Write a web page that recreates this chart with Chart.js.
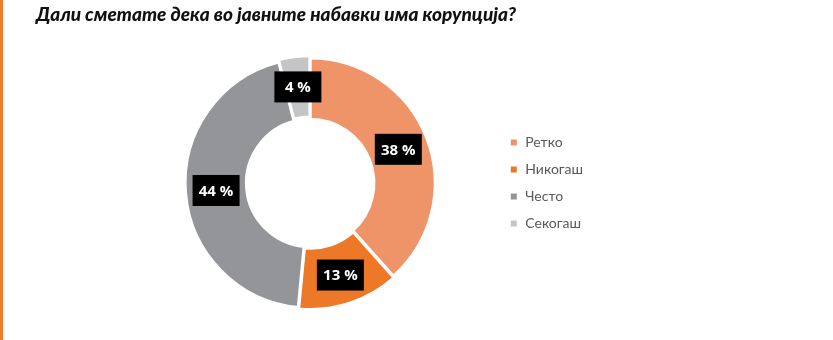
<!DOCTYPE html>
<html>
<head>
<meta charset="utf-8">
<script src="https://cdn.jsdelivr.net/npm/chart.js@4.4.1/dist/chart.umd.min.js"></script>
<style>
  html, body { margin: 0; padding: 0; background: #fff; }
  body { width: 833px; height: 340px; position: relative; overflow: hidden; }
  #bar { position: absolute; left: 0; top: 0; width: 3px; height: 340px; background: #F07D2C; }
  #title { position: absolute; left: 36px; top: 2px; margin: 0; font-family: "Lato", sans-serif; font-weight: 900; font-style: italic; font-size: 19px; color: #111; white-space: nowrap; }
  #wrap { position: absolute; left: 0; top: 0; width: 833px; height: 340px; }
</style>
</head>
<body>
<div id="bar"></div>
<div id="wrap"><canvas id="c"></canvas></div>
<h1 id="title">Дали сметате дека во јавните набавки има корупција?</h1>
<script>
const categories = ["Ретко", "Никогаш", "Често", "Секогаш"];
const values = [38, 13, 44, 4];
const valueLabels = ["38 %", "13 %", "44 %", "4 %"];
const colors = ["#EF9468", "#EC7828", "#939598", "#C3C5C7"];

const boxLabels = {
  id: 'boxLabels',
  afterDatasetsDraw(chart) {
    const ctx = chart.ctx;
    const meta = chart.getDatasetMeta(0);
    ctx.save();
    ctx.font = "bold 15px 'Open Sans', sans-serif";
    ctx.textAlign = 'center';
    ctx.textBaseline = 'middle';
    meta.data.forEach((arc, i) => {
      const p = arc.tooltipPosition();
      const w = 47, h = 31;
      ctx.fillStyle = '#000';
      ctx.fillRect(p.x - w / 2, p.y - h / 2, w, h);
      ctx.fillStyle = '#fff';
      ctx.fillText(valueLabels[i], p.x, p.y + 1);
    });
    ctx.restore();
  }
};

new Chart(document.getElementById('c'), {
  type: 'doughnut',
  data: {
    labels: categories,
    datasets: [{
      data: values,
      backgroundColor: colors,
      borderColor: '#fff',
      borderWidth: 3,
      offset: [0, 5, 0, 5],
      hoverOffset: 0
    }]
  },
  options: {
    responsive: true,
    maintainAspectRatio: false,
    animation: false,
    cutout: '51%',
    layout: { padding: { left: 124, right: 240, top: 54, bottom: 28 } },
    plugins: {
      tooltip: { enabled: false },
      legend: {
        position: 'right',
        align: 'center',
        labels: {
          boxWidth: 9,
          boxHeight: 9,
          padding: 13,
          color: '#58595B',
          font: { family: "Lato, sans-serif", size: 14 }
        }
      }
    }
  },
  plugins: [boxLabels]
});
</script>
</body>
</html>
